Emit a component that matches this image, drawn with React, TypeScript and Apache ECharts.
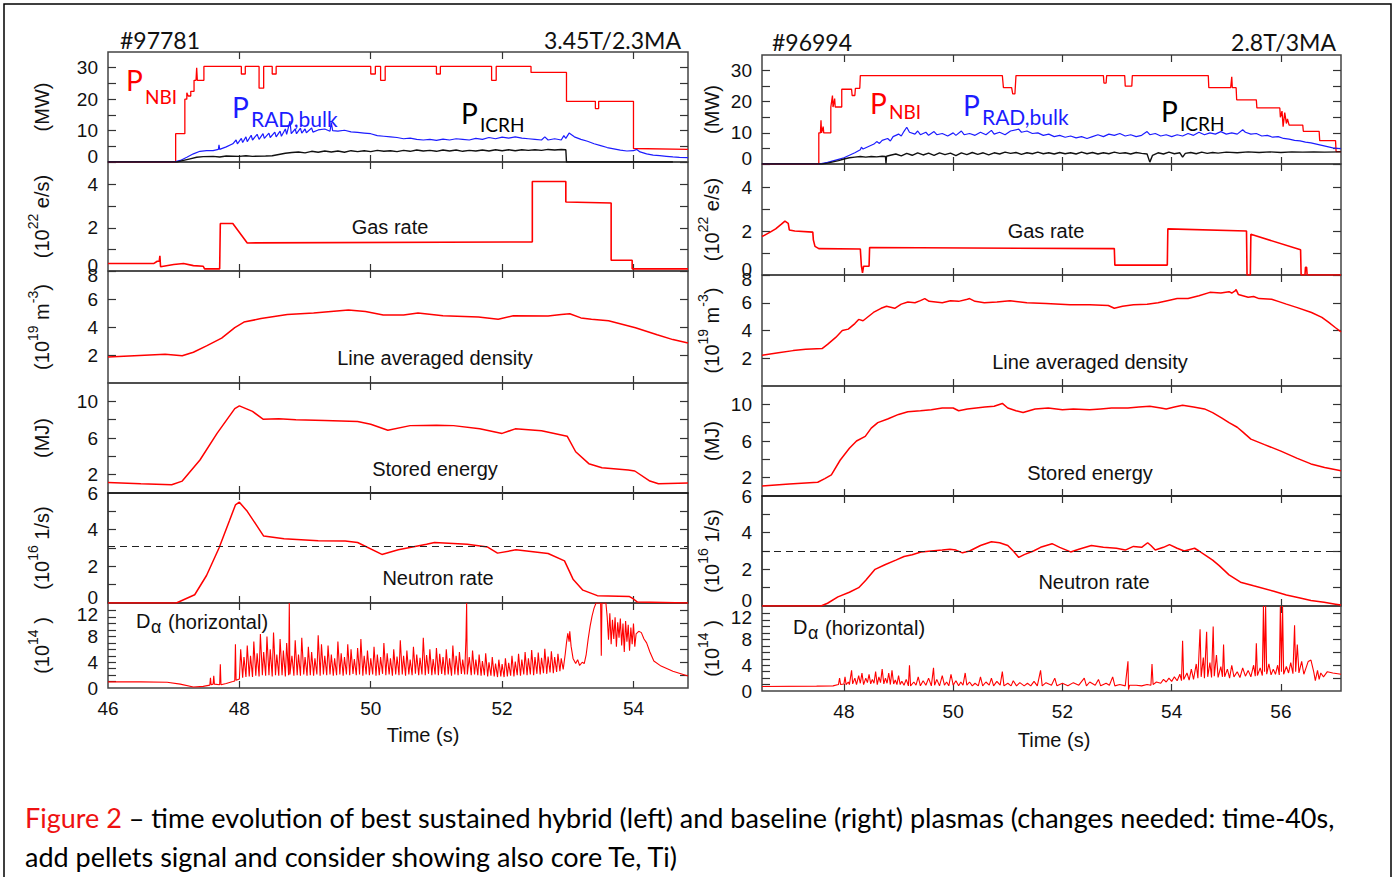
import React, { useEffect, useRef } from 'react';
import * as echarts from 'echarts';

type Pt = [number, number];

// ---------- data: left shot #97781 ----------
const L_NBI: Pt[] = [
  [46, 0], [47.03, 0], [47.03, 9], [47.17, 9], [47.17, 20], [47.2, 20], [47.2, 22], [47.22, 21], [47.26, 21],
  [47.26, 22.5], [47.31, 22.5], [47.31, 26], [47.34, 26], [47.35, 30], [47.36, 26], [47.46, 26], [47.46, 30.4],
  [48.03, 30.4], [48.03, 28], [48.09, 28], [48.09, 30.4],
  [48.3, 30.4], [48.3, 23.5], [48.37, 23.5], [48.37, 30.4],
  [48.5, 30.4], [48.5, 28], [48.56, 28], [48.56, 30.4],
  [50.0, 30.4], [50.0, 28], [50.07, 28], [50.07, 30.4],
  [50.15, 30.4], [50.15, 26], [50.22, 26], [50.22, 30.4],
  [51.0, 30.4], [51.0, 28], [51.06, 28], [51.06, 30.4],
  [51.84, 30.4], [51.84, 26], [51.91, 26], [51.91, 30.4],
  [52.44, 30.4], [52.44, 28.5], [52.98, 28.5], [52.98, 19.3],
  [53.42, 19.3], [53.42, 17], [53.47, 17], [53.47, 19.3],
  [54.0, 19.3], [54.0, 4.3], [54.83, 4.0],
];
const L_RAD: Pt[] = [
  [46, 0], [47.0, 0], [47.1, 0.5], [47.2, 1.5], [47.3, 2.6], [47.4, 3.4], [47.5, 3.6], [47.6, 3.6], [47.68, 4.0],
  [47.69, 5.5], [47.7, 4.0], [47.8, 4.8], [47.9, 5.8], [47.95, 7.0], [47.97, 5.8], [48.03, 7.5], [48.05, 6.2],
  [48.1, 8], [48.12, 6.5], [48.18, 8.5], [48.2, 7], [48.27, 8.8], [48.3, 7.2], [48.36, 9], [48.38, 7.5],
  [48.45, 9.2], [48.47, 7.8], [48.54, 9.5], [48.56, 8], [48.62, 9.8], [48.64, 8.2], [48.7, 10.5], [48.72, 8.8],
  [48.77, 13], [48.79, 9], [48.85, 10.5], [48.87, 9], [48.93, 10.8], [48.95, 9.2], [49.0, 10.5], [49.02, 9.3],
  [49.1, 10.8], [49.12, 9.5], [49.2, 10.2], [49.3, 10.5], [49.38, 9.8], [49.4, 12.5], [49.42, 10], [49.5, 9.8],
  [49.6, 10.1], [49.7, 9.6], [49.8, 9.4], [49.9, 9.2], [50.0, 9.0], [50.1, 8.4], [50.2, 8.2], [50.3, 8.0],
  [50.4, 7.8], [50.5, 7.4], [50.6, 7.6], [50.7, 7.2], [50.8, 7.0], [50.9, 7.2], [51.0, 6.9], [51.1, 7.3],
  [51.2, 7.0], [51.3, 7.4], [51.4, 7.2], [51.5, 7.0], [51.6, 7.5], [51.7, 7.2], [51.8, 7.8], [51.9, 7.4],
  [52.0, 7.9], [52.1, 7.6], [52.2, 8.0], [52.3, 7.6], [52.4, 7.4], [52.5, 7.2], [52.6, 7.0], [52.65, 8.0],
  [52.7, 7.0], [52.8, 7.4], [52.9, 7.0], [52.94, 8.4], [52.97, 7.5], [53.02, 9.2], [53.1, 8.0], [53.2, 7.2],
  [53.3, 6.6], [53.4, 5.8], [53.5, 5.2], [53.6, 4.6], [53.7, 4.2], [53.8, 3.8], [53.9, 3.5], [54.0, 3.6],
  [54.05, 4.0], [54.1, 3.2], [54.2, 2.6], [54.3, 2.2], [54.4, 2.0], [54.5, 1.8], [54.6, 1.6], [54.7, 1.5], [54.83, 1.4],
];
const L_ICRH: Pt[] = [
  [46, 0], [47.05, 0], [47.15, 0.5], [47.25, 1.0], [47.35, 1.5], [47.45, 1.7], [47.6, 1.8], [47.7, 1.6], [47.8, 1.9],
  [48.0, 1.8], [48.1, 2.0], [48.2, 1.8], [48.4, 1.9], [48.5, 2.0], [48.6, 2.4], [48.7, 2.8], [48.8, 3.0],
  [48.9, 3.2], [49.0, 2.9], [49.1, 3.4], [49.2, 3.1], [49.3, 3.5], [49.4, 3.2], [49.5, 3.5], [49.6, 3.1],
  [49.7, 3.6], [49.8, 3.3], [49.9, 3.6], [50.0, 3.3], [50.1, 3.7], [50.2, 3.4], [50.3, 3.6], [50.4, 3.3],
  [50.5, 3.7], [50.6, 3.4], [50.7, 3.8], [50.8, 3.5], [50.9, 3.7], [51.0, 3.4], [51.1, 3.8], [51.2, 3.5],
  [51.3, 3.8], [51.4, 3.4], [51.5, 3.7], [51.6, 3.5], [51.7, 3.8], [51.8, 3.5], [51.9, 3.9], [52.0, 3.6],
  [52.1, 3.9], [52.2, 3.6], [52.3, 3.9], [52.4, 3.7], [52.5, 3.9], [52.6, 3.7], [52.7, 4.0], [52.8, 3.8],
  [52.9, 4.0], [52.97, 3.9], [52.98, 0], [54.6, 0],
];
const L_GAS: Pt[] = [
  [46, 0.35], [46.7, 0.35], [46.75, 0.45], [46.78, 0.45], [46.79, 0.7], [46.8, 0.2], [47.0, 0.3], [47.15, 0.35],
  [47.3, 0.25], [47.45, 0.22], [47.47, 0.1], [47.7, 0.1], [47.71, 2.2], [47.9, 2.2], [48.12, 1.3], [52.46, 1.35],
  [52.46, 4.15], [52.97, 4.15], [52.97, 3.2], [53.66, 3.15], [53.66, 0.5], [53.98, 0.5], [53.98, 0.1], [54.83, 0.1],
];
const L_DENS: Pt[] = [
  [46, 1.85], [46.4, 1.95], [46.87, 2.05], [47.13, 1.95], [47.3, 2.2], [47.5, 2.65], [47.73, 3.2], [47.93, 3.95],
  [48.07, 4.35], [48.33, 4.6], [48.73, 4.9], [49.13, 5.0], [49.66, 5.22], [49.92, 5.1], [50.19, 4.85], [50.5, 4.85],
  [50.72, 5.0], [51.1, 4.8], [51.64, 4.72], [51.94, 4.55], [52.17, 4.8], [52.7, 4.78], [52.9, 4.9], [53.03, 4.95],
  [53.2, 4.65], [53.36, 4.55], [53.62, 4.45], [54.03, 3.95], [54.36, 3.45], [54.6, 3.1], [54.83, 2.85],
];
const L_WDIA: Pt[] = [
  [46, 1.15], [46.5, 1.0], [46.97, 0.9], [47.13, 1.3], [47.4, 3.6], [47.66, 6.5], [47.93, 9.2], [48.0, 9.5],
  [48.2, 8.9], [48.36, 8.05], [48.6, 8.1], [48.86, 8.0], [49.3, 7.9], [49.8, 7.8], [50.0, 7.5], [50.26, 6.85],
  [50.6, 7.35], [51.0, 7.4], [51.26, 7.35], [51.66, 7.0], [52.0, 6.5], [52.2, 7.0], [52.6, 6.8], [52.99, 6.2],
  [53.12, 4.5], [53.32, 3.2], [53.52, 2.75], [53.92, 2.5], [54.02, 2.4], [54.25, 1.3], [54.38, 1.0], [54.83, 1.1],
];
const L_NEUT: Pt[] = [
  [46, 0], [47.04, 0], [47.32, 0.45], [47.5, 1.5], [47.69, 3.0], [47.85, 4.5], [47.94, 5.35], [48.0, 5.5],
  [48.12, 5.0], [48.25, 4.3], [48.37, 3.65], [48.68, 3.5], [49.2, 3.4], [49.61, 3.38], [49.8, 3.3], [50.17, 2.65],
  [50.42, 2.9], [50.85, 3.2], [50.97, 3.3], [51.47, 3.2], [51.78, 3.05], [51.93, 2.72], [52.21, 2.9], [52.7, 2.7],
  [52.95, 2.3], [53.08, 1.3], [53.23, 0.7], [53.45, 0.4], [53.94, 0.35], [54.0, 0.22], [54.06, 0.05], [54.83, 0],
];
const L_NEUT_REF = 3.1;
const L_DALPHA: Pt[] = [
  [46, 0.95], [46.5, 0.95], [46.9, 0.9], [47.1, 0.6], [47.3, 0.15], [47.45, 0.25], [47.55, 0.45], [47.56, 1.6],
  [47.57, 0.5], [47.6, 0.6], [47.61, 1.9], [47.62, 0.6], [47.7, 0.5], [47.71, 3.7], [47.72, 0.5], [47.8, 0.7],
  [47.9, 1.0], [47.93, 1.1], [47.94, 6.8], [47.95, 1.2],
  [48.0, 1.4], [48.02, 6.0], [48.05, 1.6], [48.07, 4.8], [48.1, 1.7], [48.12, 6.6], [48.15, 1.8], [48.17, 5.0],
  [48.2, 1.7], [48.22, 7.2], [48.25, 1.9], [48.27, 5.4], [48.3, 1.8], [48.32, 8.4], [48.35, 2.0], [48.37, 5.6],
  [48.4, 1.9], [48.42, 8.0], [48.45, 2.0], [48.47, 6.0], [48.5, 1.8], [48.52, 8.6], [48.55, 2.0], [48.57, 5.2],
  [48.6, 1.9], [48.62, 7.6], [48.65, 2.0], [48.67, 5.8], [48.7, 1.8], [48.72, 7.0], [48.75, 2.0], [48.76, 13.2],
  [48.77, 2.1], [48.8, 5.0], [48.83, 1.9], [48.85, 7.4], [48.88, 2.0], [48.9, 5.2], [48.93, 1.9], [48.95, 7.8],
  [48.98, 2.1], [49.0, 4.8], [49.03, 1.9], [49.05, 6.4], [49.08, 2.0], [49.1, 5.6], [49.13, 1.9], [49.15, 4.6],
  [49.18, 2.1], [49.2, 8.2], [49.23, 1.9], [49.25, 6.8], [49.28, 2.1], [49.3, 5.0], [49.33, 2.0], [49.35, 6.6],
  [49.38, 2.1], [49.4, 5.2], [49.43, 1.9], [49.45, 4.6], [49.48, 2.0], [49.5, 7.2], [49.53, 2.1], [49.55, 5.4],
  [49.58, 1.9], [49.6, 4.8], [49.63, 2.1], [49.65, 6.8], [49.68, 2.0], [49.7, 6.0], [49.73, 2.2], [49.75, 4.5],
  [49.78, 2.0], [49.8, 6.2], [49.83, 2.1], [49.85, 7.6], [49.88, 1.9], [49.9, 5.0], [49.93, 2.1], [49.95, 5.8],
  [49.98, 2.0], [50.0, 4.6], [50.03, 2.1], [50.05, 6.4], [50.08, 1.9], [50.1, 5.2], [50.13, 2.0], [50.15, 4.8],
  [50.18, 2.2], [50.2, 7.0], [50.23, 2.0], [50.25, 5.4], [50.28, 2.1], [50.3, 4.6], [50.33, 1.9], [50.35, 6.0],
  [50.38, 2.1], [50.4, 4.9], [50.43, 2.0], [50.45, 7.4], [50.48, 2.1], [50.5, 5.0], [50.53, 1.9], [50.55, 5.8],
  [50.58, 2.1], [50.6, 4.4], [50.63, 2.0], [50.65, 6.4], [50.68, 2.2], [50.7, 5.2], [50.73, 2.0], [50.75, 4.7],
  [50.78, 2.1], [50.8, 7.8], [50.83, 2.0], [50.85, 5.1], [50.88, 2.2], [50.9, 6.0], [50.93, 2.0], [50.95, 4.5],
  [50.98, 2.1], [51.0, 6.2], [51.03, 2.0], [51.05, 5.3], [51.08, 2.2], [51.1, 4.8], [51.13, 2.0], [51.15, 6.0],
  [51.18, 2.1], [51.2, 4.6], [51.23, 1.9], [51.25, 6.6], [51.28, 2.1], [51.3, 5.0], [51.33, 2.0], [51.35, 5.6],
  [51.38, 2.2], [51.4, 4.4], [51.43, 2.1], [51.45, 7.8], [51.46, 13.2], [51.47, 2.1], [51.5, 4.8], [51.53, 2.0],
  [51.55, 5.8], [51.58, 2.1], [51.6, 4.4], [51.63, 2.0], [51.65, 5.2], [51.68, 1.9], [51.7, 4.2], [51.73, 2.0],
  [51.75, 5.4], [51.78, 1.8], [51.8, 4.0], [51.83, 1.9], [51.85, 4.8], [51.88, 1.8], [51.9, 3.8], [51.93, 1.7],
  [51.95, 4.4], [51.98, 1.8], [52.0, 3.7], [52.03, 1.7], [52.05, 4.6], [52.08, 1.8], [52.1, 3.9], [52.13, 1.9],
  [52.15, 5.0], [52.18, 1.8], [52.2, 4.1], [52.23, 2.0], [52.25, 5.3], [52.28, 1.9], [52.3, 4.4], [52.33, 2.1],
  [52.35, 5.6], [52.38, 2.0], [52.4, 4.6], [52.43, 2.1], [52.45, 5.9], [52.48, 2.0], [52.5, 4.8], [52.53, 2.2],
  [52.55, 5.5], [52.58, 2.1], [52.6, 4.7], [52.63, 2.3], [52.65, 6.1], [52.68, 2.2], [52.7, 4.9], [52.73, 2.4],
  [52.75, 5.7], [52.78, 2.3], [52.8, 4.8], [52.83, 2.5], [52.85, 5.3], [52.88, 2.6], [52.9, 4.6], [52.93, 2.9],
  [52.96, 5.2], [52.98, 7.0], [53.0, 8.5], [53.02, 7.2], [53.03, 8.8], [53.05, 6.5], [53.08, 4.6], [53.12, 3.8],
  [53.15, 4.4], [53.18, 3.5], [53.22, 4.0], [53.25, 3.8], [53.28, 5.2], [53.31, 7.6], [53.34, 9.6], [53.37, 11.2],
  [53.4, 12.4], [53.43, 13.2], [53.5, 13.2], [53.51, 5.0], [53.52, 13.2], [53.58, 13.2], [53.6, 11.0], [53.62, 7.5],
  [53.64, 11.6], [53.66, 6.8], [53.68, 10.6], [53.7, 7.6], [53.72, 11.0], [53.74, 6.4], [53.76, 10.2], [53.78, 7.8],
  [53.8, 10.8], [53.82, 6.6], [53.84, 10.0], [53.86, 5.6], [53.88, 10.4], [53.9, 7.2], [53.92, 9.8], [53.94, 5.8],
  [53.96, 9.4], [53.98, 6.8], [54.0, 10.0], [54.02, 6.4], [54.04, 8.4], [54.08, 8.8], [54.12, 8.6], [54.16, 7.6],
  [54.2, 7.0], [54.25, 5.6], [54.31, 4.2], [54.42, 3.4], [54.6, 2.6], [54.83, 1.85],
];

// ---------- data: right shot #96994 ----------
const R_NBI: Pt[] = [
  [46.5, 0], [47.54, 0], [47.54, 10], [47.57, 10], [47.58, 14], [47.59, 10], [47.62, 12], [47.63, 10], [47.76, 10],
  [47.76, 18.3], [47.79, 22], [47.8, 18.3], [47.83, 21], [47.84, 18.3], [47.96, 18.3], [47.96, 24], [48.14, 24],
  [48.15, 22], [48.2, 22], [48.21, 24.3], [48.29, 24.3], [48.3, 28.4], [50.9, 28.4], [50.92, 24.5], [51.07, 24.5],
  [51.09, 22.5], [51.13, 22.5], [51.15, 28.4], [52.75, 28.4], [52.76, 26], [52.8, 26], [52.81, 28.4], [53.14, 28.4],
  [53.15, 25], [53.27, 25], [53.28, 28.4], [54.67, 28.4], [54.68, 24.5], [55.08, 24.5], [55.1, 28], [55.11, 24.5],
  [55.18, 24.5], [55.19, 20.6], [55.55, 20.6], [55.56, 18], [55.98, 18], [55.99, 15], [56.02, 17], [56.04, 12],
  [56.07, 16.5], [56.1, 13], [56.12, 14.5], [56.15, 12.5], [56.4, 12.5], [56.41, 10.5], [56.7, 10.5], [56.71, 7.5],
  [57.0, 7.5], [57.01, 4.0], [57.1, 4.0],
];
const R_RAD: Pt[] = [
  [46.5, 0], [47.54, 0], [47.7, 0.5], [47.9, 1.5], [48.0, 2.0], [48.1, 2.8], [48.2, 3.6], [48.3, 4.6], [48.32, 5.4],
  [48.35, 4.8], [48.45, 5.6], [48.55, 6.4], [48.6, 7.2], [48.65, 6.6], [48.7, 7.6], [48.8, 8.2], [48.85, 7.4],
  [48.9, 8.8], [49.0, 9.6], [49.05, 9.0], [49.1, 10.5], [49.15, 11.8], [49.2, 10.2], [49.3, 9.6], [49.35, 10.6],
  [49.4, 9.4], [49.5, 10.2], [49.55, 9.2], [49.65, 10.4], [49.7, 9.4], [49.8, 9.8], [49.9, 9.0], [50.0, 10.0],
  [50.05, 9.2], [50.15, 10.6], [50.2, 9.4], [50.3, 9.8], [50.4, 9.2], [50.5, 10.2], [50.6, 9.4], [50.7, 10.8],
  [50.75, 9.6], [50.85, 10.2], [50.95, 9.4], [51.05, 10.6], [51.2, 11.2], [51.25, 10.2], [51.35, 10.6], [51.45, 9.8],
  [51.55, 10.0], [51.65, 9.2], [51.75, 9.6], [51.85, 8.8], [51.95, 9.2], [52.05, 8.6], [52.15, 9.0], [52.25, 8.4],
  [52.35, 8.8], [52.45, 8.2], [52.55, 8.8], [52.65, 9.4], [52.75, 8.8], [52.85, 9.6], [52.95, 9.2], [53.05, 9.8],
  [53.15, 9.0], [53.25, 9.4], [53.35, 8.8], [53.45, 9.2], [53.55, 10.4], [53.6, 9.4], [53.7, 9.8], [53.8, 9.0],
  [53.9, 9.4], [54.0, 8.8], [54.1, 9.4], [54.2, 9.0], [54.3, 9.8], [54.4, 9.2], [54.5, 10.2], [54.6, 9.4],
  [54.7, 10.0], [54.8, 9.6], [54.9, 10.4], [55.0, 9.6], [55.1, 10.0], [55.2, 9.6], [55.3, 11.0], [55.35, 10.2],
  [55.45, 9.6], [55.55, 9.8], [55.65, 9.0], [55.75, 9.2], [55.85, 8.6], [55.95, 8.8], [56.05, 8.2], [56.15, 8.0],
  [56.25, 7.6], [56.35, 7.4], [56.45, 7.0], [56.55, 6.8], [56.65, 6.4], [56.75, 6.0], [56.85, 5.6], [56.95, 5.2],
  [57.1, 4.9],
];
const R_ICRH: Pt[] = [
  [46.5, 0], [47.6, 0], [47.7, 0.3], [47.8, 0.7], [47.9, 1.1], [48.0, 1.6], [48.1, 2.0], [48.2, 2.2], [48.3, 2.4],
  [48.4, 2.2], [48.5, 2.4], [48.6, 2.3], [48.7, 2.5], [48.76, 2.4], [48.77, 0.2], [48.78, 2.5], [48.85, 2.8],
  [48.95, 3.2], [49.05, 2.6], [49.15, 3.4], [49.25, 2.8], [49.35, 3.6], [49.45, 2.9], [49.55, 3.5], [49.65, 2.8],
  [49.75, 3.6], [49.85, 3.0], [49.95, 3.5], [50.05, 2.7], [50.15, 3.6], [50.25, 3.0], [50.35, 3.7], [50.45, 3.1],
  [50.55, 3.6], [50.65, 2.9], [50.75, 3.6], [50.85, 3.2], [50.95, 3.8], [51.05, 3.4], [51.15, 3.7], [51.25, 3.1],
  [51.35, 3.6], [51.45, 3.3], [51.55, 3.8], [51.65, 3.3], [51.75, 3.6], [51.85, 3.2], [51.95, 3.7], [52.05, 3.3],
  [52.15, 3.6], [52.25, 3.2], [52.35, 3.8], [52.45, 3.3], [52.55, 3.7], [52.65, 3.2], [52.75, 3.6], [52.85, 3.3],
  [52.95, 3.8], [53.05, 3.4], [53.15, 3.6], [53.25, 3.2], [53.35, 3.7], [53.45, 3.4], [53.55, 3.2], [53.6, 0.6],
  [53.65, 2.8], [53.75, 3.6], [53.85, 3.2], [53.95, 3.8], [54.05, 3.3], [54.15, 3.6], [54.2, 2.2], [54.25, 3.4],
  [54.35, 3.7], [54.45, 3.3], [54.55, 3.8], [54.65, 3.4], [54.75, 3.7], [54.85, 3.5], [55.0, 3.8], [55.2, 3.6],
  [55.4, 3.9], [55.6, 3.7], [55.8, 3.9], [56.0, 3.7], [56.2, 3.9], [56.4, 3.8], [56.6, 3.9], [56.8, 3.8], [57.1, 3.9],
];
const R_GAS: Pt[] = [
  [46.5, 1.75], [46.65, 1.95], [46.75, 2.1], [46.85, 2.3], [46.92, 2.45], [46.98, 2.35], [47.0, 2.05], [47.1, 2.0],
  [47.43, 1.95], [47.44, 1.6], [47.47, 1.3], [47.54, 1.2], [48.3, 1.18], [48.32, 0.4], [48.34, 0.1], [48.36, 0.4],
  [48.46, 0.4], [48.47, 1.25], [52.95, 1.2], [52.96, 0.45], [53.92, 0.45], [53.93, 2.1], [55.37, 2.0], [55.38, 0],
  [55.44, 0], [55.45, 1.85], [56.36, 1.15], [56.37, 0], [56.44, 0], [56.45, 0.35], [56.47, 0.35], [56.48, 0], [57.1, 0],
];
const R_DENS: Pt[] = [
  [46.5, 2.22], [46.8, 2.4], [47.07, 2.55], [47.3, 2.65], [47.6, 2.7], [47.7, 3.0], [47.85, 3.5], [47.97, 4.0],
  [48.08, 4.1], [48.2, 4.5], [48.27, 4.8], [48.35, 4.7], [48.54, 5.3], [48.68, 5.6], [48.78, 5.75], [48.93, 5.6],
  [49.05, 5.9], [49.17, 6.05], [49.3, 6.0], [49.4, 6.15], [49.48, 6.3], [49.56, 6.1], [49.8, 6.0], [49.95, 6.15],
  [50.1, 6.1], [50.26, 6.25], [50.3, 6.3], [50.4, 6.1], [50.57, 6.0], [50.8, 6.05], [51.04, 6.15], [51.35, 6.0],
  [51.7, 5.95], [52.14, 5.85], [52.5, 5.85], [52.84, 5.8], [52.95, 5.6], [53.1, 5.75], [53.3, 5.85], [53.55, 5.9],
  [53.75, 6.0], [53.92, 6.15], [54.1, 6.3], [54.3, 6.3], [54.5, 6.5], [54.7, 6.75], [54.9, 6.7], [55.05, 6.8],
  [55.1, 6.7], [55.16, 6.85], [55.18, 6.95], [55.22, 6.6], [55.4, 6.4], [55.5, 6.45], [55.6, 6.3], [55.83, 6.25],
  [55.95, 6.1], [56.1, 5.9], [56.3, 5.65], [56.56, 5.3], [56.75, 4.95], [56.87, 4.6], [57.0, 4.2], [57.1, 3.9],
];
const R_WDIA: Pt[] = [
  [46.5, 1.1], [47.0, 1.3], [47.52, 1.5], [47.65, 1.9], [47.77, 2.3], [47.93, 3.9], [48.1, 5.2], [48.23, 6.0],
  [48.39, 6.5], [48.5, 7.4], [48.62, 8.0], [48.8, 8.4], [49.0, 8.9], [49.17, 9.2], [49.4, 9.3], [49.6, 9.4],
  [49.8, 9.6], [50.0, 9.6], [50.1, 9.3], [50.26, 9.5], [50.58, 9.7], [50.75, 9.8], [50.9, 10.1], [51.0, 9.6],
  [51.15, 9.3], [51.28, 9.1], [51.5, 9.5], [51.74, 9.6], [52.0, 9.4], [52.2, 9.5], [52.5, 9.4], [52.7, 9.5],
  [52.9, 9.6], [53.2, 9.6], [53.4, 9.7], [53.6, 9.8], [53.8, 9.6], [53.9, 9.5], [54.05, 9.7], [54.2, 9.9],
  [54.4, 9.7], [54.6, 9.5], [54.75, 9.1], [54.92, 8.5], [55.05, 8.0], [55.2, 7.5], [55.3, 7.0], [55.45, 6.2],
  [55.7, 5.6], [56.0, 4.9], [56.3, 4.1], [56.55, 3.5], [56.8, 3.1], [57.1, 2.75],
];
const R_NEUT: Pt[] = [
  [46.5, 0], [47.58, 0], [47.7, 0.15], [47.89, 0.5], [48.1, 0.75], [48.27, 1.0], [48.4, 1.4], [48.57, 2.0],
  [48.75, 2.25], [48.95, 2.5], [49.1, 2.7], [49.25, 2.8], [49.41, 2.95], [49.6, 3.0], [49.8, 3.05], [49.94, 3.1],
  [50.05, 3.05], [50.17, 2.9], [50.3, 3.0], [50.5, 3.3], [50.7, 3.5], [50.85, 3.45], [51.0, 3.3], [51.1, 3.0],
  [51.2, 2.65], [51.3, 2.8], [51.47, 3.0], [51.6, 3.2], [51.81, 3.4], [51.95, 3.2], [52.15, 2.95], [52.3, 3.1],
  [52.53, 3.3], [52.75, 3.2], [52.99, 3.15], [53.15, 3.05], [53.3, 3.25], [53.45, 3.2], [53.56, 3.45], [53.62, 3.3],
  [53.7, 3.05], [53.85, 3.2], [53.96, 3.35], [54.1, 3.15], [54.23, 3.0], [54.42, 3.15], [54.5, 3.0], [54.6, 2.8],
  [54.75, 2.5], [54.87, 2.2], [55.05, 1.7], [55.26, 1.3], [55.5, 1.1], [55.87, 0.8], [56.1, 0.6], [56.33, 0.45],
  [56.55, 0.3], [56.79, 0.2], [57.0, 0.1], [57.1, 0.05],
];
const R_NEUT_REF = 3.0;
const R_DALPHA: Pt[] = [
  [46.5, 0.7], [47.5, 0.75], [47.8, 0.8], [47.9, 1.0], [47.92, 2.0], [47.94, 1.0], [48.0, 1.1], [48.02, 2.2],
  [48.04, 1.0], [48.08, 1.4], [48.1, 1.0], [48.14, 3.2], [48.16, 1.1], [48.2, 2.0], [48.23, 1.0], [48.27, 2.4],
  [48.3, 1.2], [48.33, 2.8], [48.36, 1.0], [48.4, 2.0], [48.43, 1.3], [48.46, 2.6], [48.49, 1.1], [48.52, 1.8],
  [48.55, 1.2], [48.58, 3.0], [48.61, 1.0], [48.64, 2.2], [48.67, 1.3], [48.7, 3.4], [48.73, 1.1], [48.76, 2.0],
  [48.79, 1.2], [48.82, 2.8], [48.85, 1.0], [48.88, 3.2], [48.91, 1.1], [48.94, 1.7], [48.97, 1.0], [49.0, 2.4],
  [49.03, 1.0], [49.06, 1.5], [49.1, 0.9], [49.14, 1.8], [49.18, 0.8], [49.2, 4.0], [49.22, 0.8], [49.28, 1.4],
  [49.32, 0.9], [49.36, 2.2], [49.4, 0.8], [49.45, 1.6], [49.5, 0.9], [49.55, 2.0], [49.6, 0.8], [49.64, 3.6],
  [49.66, 0.9], [49.7, 1.8], [49.75, 0.8], [49.8, 2.4], [49.84, 0.9], [49.88, 1.4], [49.92, 0.8], [49.96, 2.6],
  [50.0, 0.9], [50.05, 1.6], [50.1, 0.8], [50.14, 1.4], [50.18, 0.9], [50.22, 2.8], [50.25, 0.9], [50.3, 1.4],
  [50.35, 0.8], [50.4, 1.2], [50.46, 0.8], [50.5, 2.2], [50.54, 0.8], [50.6, 1.4], [50.66, 0.9], [50.7, 2.0],
  [50.74, 0.8], [50.8, 1.5], [50.86, 0.9], [50.9, 3.0], [50.93, 0.8], [51.0, 1.2], [51.06, 0.8], [51.1, 1.6],
  [51.16, 0.8], [51.22, 1.3], [51.3, 0.8], [51.36, 1.2], [51.42, 0.8], [51.48, 1.5], [51.54, 0.8], [51.6, 3.2],
  [51.63, 0.8], [51.7, 1.3], [51.8, 0.9], [51.86, 2.0], [51.9, 0.8], [52.0, 1.2], [52.1, 0.8], [52.2, 1.3],
  [52.3, 0.9], [52.4, 2.0], [52.44, 0.8], [52.5, 1.4], [52.6, 0.9], [52.66, 1.8], [52.7, 0.8], [52.8, 1.2],
  [52.86, 0.9], [52.92, 2.2], [52.96, 0.8], [53.05, 1.0], [53.15, 0.8], [53.2, 4.6], [53.21, 0.2], [53.23, 0.9],
  [53.35, 0.9], [53.45, 0.8], [53.55, 1.0], [53.62, 0.9], [53.64, 4.2], [53.66, 1.0], [53.72, 1.4], [53.8, 1.2],
  [53.85, 1.8], [53.9, 1.4], [53.95, 2.0], [54.0, 1.5], [54.05, 2.2], [54.1, 1.6], [54.15, 2.6], [54.18, 1.6],
  [54.2, 7.8], [54.22, 1.8], [54.28, 2.8], [54.32, 1.7], [54.36, 3.4], [54.4, 1.8], [54.45, 4.2], [54.48, 2.0],
  [54.52, 9.6], [54.54, 2.2], [54.58, 5.2], [54.6, 2.0], [54.64, 9.2], [54.66, 2.2], [54.7, 4.4], [54.73, 2.1],
  [54.76, 10.0], [54.78, 2.3], [54.82, 5.6], [54.85, 2.1], [54.9, 3.8], [54.93, 2.2], [54.95, 7.2], [54.97, 2.2],
  [55.02, 3.4], [55.06, 2.0], [55.1, 4.0], [55.14, 2.2], [55.2, 3.0], [55.25, 2.1], [55.3, 3.6], [55.35, 2.3],
  [55.4, 3.2], [55.45, 2.2], [55.5, 4.0], [55.53, 2.3], [55.55, 7.4], [55.57, 2.4], [55.62, 3.6], [55.66, 2.4],
  [55.68, 13.2], [55.7, 3.0], [55.72, 13.2], [55.74, 2.6], [55.78, 4.2], [55.82, 2.5], [55.86, 3.4], [55.9, 2.6],
  [55.94, 4.0], [55.97, 2.5], [55.99, 13.2], [56.01, 3.0], [56.03, 13.2], [56.05, 2.6], [56.1, 3.8], [56.14, 2.8],
  [56.18, 4.4], [56.22, 2.7], [56.25, 10.2], [56.27, 3.0], [56.3, 7.2], [56.33, 2.8], [56.38, 4.6], [56.42, 2.6],
  [56.46, 3.6], [56.5, 4.6], [56.55, 4.8], [56.6, 3.0], [56.63, 1.6], [56.67, 3.2], [56.7, 1.8], [56.73, 2.8],
  [56.78, 2.2], [56.85, 3.0], [56.95, 2.8], [57.1, 2.6],
];

// ---------- axes ----------
const L_X_TICKS = [48, 50, 52, 54];
const L_X_LABELS = [46, 48, 50, 52, 54];
const R_X_TICKS = [48, 50, 52, 54, 56];
const R_X_LABELS = [48, 50, 52, 54, 56];

const Y_RANGES: [number, number][] = [[0, 35], [0, 5.05], [0, 8], [0, 12], [0, 6], [0, 13.2]];
const Y_TICKS = [
  [0, 5, 10, 15, 20, 25, 30],
  [0, 1, 2, 3, 4],
  [2, 4, 6],
  [2, 4, 6, 8, 10],
  [1, 2, 3, 4, 5],
  [1, 2, 3, 4, 5, 6, 7, 8, 9, 10, 11, 12],
];
const Y_LABELS = [[0, 10, 20, 30], [0, 2, 4], [2, 4, 6, 8], [2, 6, 10], [0, 2, 4, 6], [0, 4, 8, 12]];
const Y_NAMES = [
  '{a|(MW)}',
  '{a|(10}{s|22}{a| e/s)}',
  '{a|(10}{s|19}{a| m}{s|-3}{a|)}',
  '{a|(MJ)}',
  '{a|(10}{s|16}{a| 1/s)}',
  '{a|(10}{s|14}{a| )}',
];
const PANEL_LABELS = ['', 'Gas rate', 'Line averaged density', 'Stored energy', 'Neutron rate', ''];

const SANS = '"Liberation Sans", Arial, Helvetica, sans-serif';
const CAL = 'Lato, "Open Sans", sans-serif';
const RED = '#ff0000';
const BLUE = '#1c1cff';
const INK = '#111111';

const COLS = [
  {
    left: 108, width: 580, edges: [52, 162, 271, 383, 493, 603, 688], xMin: 46, xMax: 54.83,
    xTicks: L_X_TICKS, xLabels: L_X_LABELS, nameX: 42,
    labelPos: [[390, 227], [435, 358], [435, 469], [438, 578]],
  },
  {
    left: 762, width: 579, edges: [55, 164, 275, 386, 496, 606, 691], xMin: 46.5, xMax: 57.1,
    xTicks: R_X_TICKS, xLabels: R_X_LABELS, nameX: 712,
    labelPos: [[1046, 231], [1090, 362], [1090, 473], [1094, 582]],
  },
];

// bottom "0" labels sit a little high and the density "8" a little low, as in the figure
function yLabelText(row: number, v: number) {
  if (v === 0 && (row === 0 || row === 1 || row === 4)) return `{u|${v}}`;
  if ((v === 8 && row === 2) || (v === 12 && row === 5)) return `{d|${v}}`;
  return `{n|${v}}`;
}

function buildOption() {
  const grid: any[] = [];
  const xAxis: any[] = [];
  const yAxis: any[] = [];
  const series: any[] = [];
  const graphic: any[] = [];
  const tickStyle = { color: '#333', width: 1.2 };
  const labelRich = {
    n: { fontSize: 19, fontFamily: SANS, color: INK },
    u: { fontSize: 19, fontFamily: SANS, color: INK, padding: [0, 0, 12, 0] },
    d: { fontSize: 19, fontFamily: SANS, color: INK, padding: [8, 0, 0, 0] },
  };

  COLS.forEach((col, c) => {
    for (let r = 0; r < 6; r++) {
      const g = c * 6 + r;
      const top = col.edges[r];
      const h = col.edges[r + 1] - top;
      grid.push({
        left: col.left, top, width: col.width, height: h,
        show: true, borderColor: r === 4 ? '#111' : '#444', borderWidth: 1.5, backgroundColor: 'transparent',
      });
      const last = r === 5;
      const xBase = {
        type: 'value', gridIndex: g, min: col.xMin, max: col.xMax,
        axisLine: { show: false, onZero: false }, splitLine: { show: false },
      };
      xAxis.push({
        ...xBase, position: 'bottom',
        axisTick: { show: true, inside: true, length: 7, customValues: col.xTicks, lineStyle: tickStyle },
        axisLabel: {
          show: last, customValues: col.xLabels, margin: 11, fontSize: 19, fontFamily: SANS, color: INK,
        },
      });
      xAxis.push({
        ...xBase, position: 'top',
        axisTick: { show: true, inside: true, length: 7, customValues: col.xTicks, lineStyle: tickStyle },
        axisLabel: { show: false },
      });
      const [yMin, yMax] = Y_RANGES[r];
      const yBase = {
        type: 'value', gridIndex: g, min: yMin, max: yMax,
        axisLine: { show: false, onZero: false }, splitLine: { show: false },
      };
      yAxis.push({
        ...yBase, position: 'left',
        axisTick: { show: true, inside: true, length: 8, customValues: Y_TICKS[r], lineStyle: tickStyle },
        axisLabel: {
          show: true, customValues: Y_LABELS[r], margin: 10, fontSize: 19, fontFamily: SANS, color: INK,
          formatter: (v: number) => yLabelText(r, v), rich: labelRich,
        },
      });
      yAxis.push({
        ...yBase, position: 'right',
        axisTick: {
          show: true, inside: true, length: 8,
          customValues: r === 5 ? [2, 4, 6, 8, 10, 12] : Y_TICKS[r], lineStyle: tickStyle,
        },
        axisLabel: { show: false },
      });

      graphic.push({
        type: 'text', x: col.nameX, y: top + h / 2, rotation: Math.PI / 2, silent: true,
        style: {
          text: Y_NAMES[r], align: 'center', verticalAlign: 'middle',
          rich: {
            a: { fontSize: 20, fontFamily: SANS, fill: INK, lineHeight: 32 },
            s: { fontSize: 14, fontFamily: SANS, fill: INK, lineHeight: 14, verticalAlign: 'top' },
          },
        },
      });
      if (PANEL_LABELS[r]) {
        const [px, py] = col.labelPos[r - 1];
        graphic.push({
          type: 'text', x: px, y: py, silent: true,
          style: { text: PANEL_LABELS[r], fontSize: 20, fontFamily: SANS, fill: INK, align: 'center', verticalAlign: 'middle' },
        });
      }
    }
  });

  const mk = (data: Pt[], color: string, g: number, width = 1.4, extra: any = {}) => ({
    type: 'line', data, xAxisIndex: g * 2, yAxisIndex: g * 2, showSymbol: false, symbol: 'none',
    lineStyle: { color, width }, itemStyle: { color }, clip: true, silent: true, z: 3, ...extra,
  });
  const ref = (v: number) => ({
    markLine: {
      silent: true, symbol: ['none', 'none'], label: { show: false },
      lineStyle: { type: [7, 5], color: '#222', width: 1.2 }, data: [{ yAxis: v }],
    },
  });

  series.push(
    mk(L_NBI, RED, 0, 1.3), mk(L_RAD, BLUE, 0, 1.2), mk(L_ICRH, INK, 0, 1.4),
    mk(L_GAS, RED, 1, 1.6), mk(L_DENS, RED, 2, 1.5), mk(L_WDIA, RED, 3, 1.5),
    mk(L_NEUT, RED, 4, 1.5, ref(L_NEUT_REF)), mk(L_DALPHA, RED, 5, 1.1),
    mk(R_NBI, RED, 6, 1.3), mk(R_RAD, BLUE, 6, 1.2), mk(R_ICRH, INK, 6, 1.4),
    mk(R_GAS, RED, 7, 1.6), mk(R_DENS, RED, 8, 1.5), mk(R_WDIA, RED, 9, 1.5),
    mk(R_NEUT, RED, 10, 1.5, ref(R_NEUT_REF)), mk(R_DALPHA, RED, 11, 1.1),
  );

  const t = (x: number, y: number, text: string, o: any = {}) => ({
    type: 'text', x, y, silent: true,
    style: { text, fontSize: 20, fontFamily: SANS, fill: INK, align: 'left', verticalAlign: 'middle', ...o },
  });

  graphic.push(
    // outer frame
    { type: 'rect', shape: { x: 4, y: 4, width: 1387, height: 900 }, silent: true, style: { fill: 'none', stroke: '#000', lineWidth: 1.5 } },
    // headers
    t(120, 40, '#97781', { fontFamily: CAL, fontSize: 23 }),
    t(681, 40, '3.45T/2.3MA', { fontFamily: CAL, fontSize: 23, align: 'right' }),
    t(772, 42, '#96994', { fontFamily: CAL, fontSize: 23 }),
    t(1336, 42, '2.8T/3MA', { fontFamily: CAL, fontSize: 23, align: 'right' }),
    // power labels, left
    t(126, 80, 'P', { fontFamily: CAL, fontSize: 28, fill: RED }),
    t(145, 96, 'NBI', { fontFamily: CAL, fontSize: 19, fill: RED }),
    t(232, 107, 'P', { fontFamily: CAL, fontSize: 28, fill: BLUE }),
    t(251, 118, 'RAD,bulk', { fontFamily: CAL, fontSize: 21, fill: BLUE }),
    t(461, 113, 'P', { fontFamily: CAL, fontSize: 28, fill: '#000' }),
    t(480, 124, 'ICRH', { fontFamily: CAL, fontSize: 19, fill: '#000' }),
    // power labels, right
    t(870, 103, 'P', { fontFamily: CAL, fontSize: 28, fill: RED }),
    t(889, 111, 'NBI', { fontFamily: CAL, fontSize: 19, fill: RED }),
    t(963, 105, 'P', { fontFamily: CAL, fontSize: 28, fill: BLUE }),
    t(982, 116, 'RAD,bulk', { fontFamily: CAL, fontSize: 21, fill: BLUE }),
    t(1161, 111, 'P', { fontFamily: CAL, fontSize: 28, fill: '#000' }),
    t(1180, 123, 'ICRH', { fontFamily: CAL, fontSize: 19, fill: '#000' }),
    // D-alpha labels
    t(136, 621, 'D'), t(151, 627, 'α', { fontSize: 18 }), t(168, 622, '(horizontal)'),
    t(793, 627, 'D'), t(808, 633, 'α', { fontSize: 18 }), t(825, 628, '(horizontal)'),
    // x axis titles
    t(423, 735, 'Time (s)', { align: 'center' }),
    t(1054, 740, 'Time (s)', { align: 'center' }),
    // caption
    {
      type: 'text', x: 25, y: 817, silent: true,
      style: {
        text: '{r|Figure 2}{k| – time evolution of best sustained hybrid (left) and baseline (right) plasmas (changes needed: time-40s,}',
        align: 'left', verticalAlign: 'middle',
        rich: {
          r: { fontFamily: CAL, fontSize: 27, fill: '#ee1111' },
          k: { fontFamily: CAL, fontSize: 27, fill: '#000' },
        },
      },
    },
    t(25, 856, 'add pellets signal and consider showing also core Te, Ti)', { fontFamily: CAL, fontSize: 27, fill: '#000' }),
  );

  return {
    animation: false,
    backgroundColor: '#ffffff',
    grid, xAxis, yAxis, series, graphic,
  };
}

export default function App() {
  const ref = useRef<HTMLDivElement>(null);

  useEffect(() => {
    if (!ref.current) return;
    const chart = echarts.init(ref.current, undefined, { renderer: 'svg' });
    chart.setOption(buildOption() as any);
    return () => chart.dispose();
  }, []);

  return (
    <div
      ref={ref}
      style={{ position: 'absolute', left: 0, top: 0, width: 1397, height: 877, background: '#fff' }}
    />
  );
}
